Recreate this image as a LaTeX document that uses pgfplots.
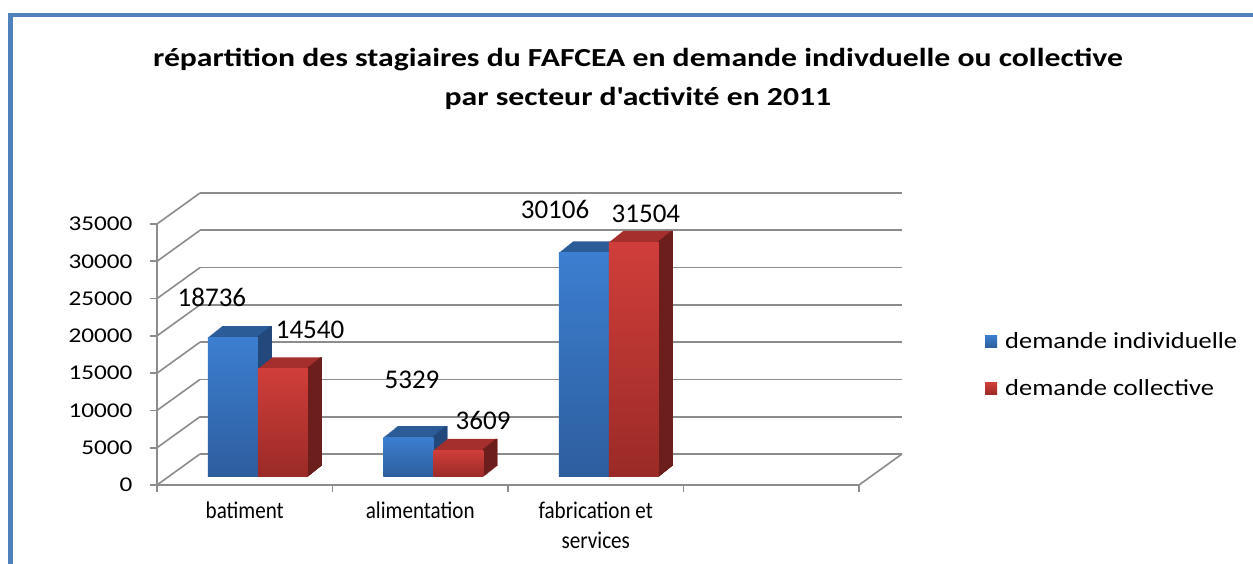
\documentclass[border=0pt]{standalone}
\usepackage{fontspec}
\setmainfont{Carlito}
\newfontfamily\titlefont[FakeStretch=1.22]{Carlito}
\newfontfamily\tickfont[FakeStretch=1.2]{Carlito}
\newfontfamily\legfont[FakeStretch=1.15]{Carlito}
\newfontfamily\catfont[FakeStretch=0.88]{Carlito}
\usepackage{pgfplots}
\usepackage{pgfplotstable}
\pgfplotsset{compat=1.18}
\definecolor{frameblue}{HTML}{4F81BD}
\definecolor{gridgray}{HTML}{8C8C8C}
\definecolor{bluefront}{HTML}{3C7ED0}
\definecolor{bluefrontdark}{HTML}{2D5E9E}
\definecolor{bluetop}{HTML}{2C5C98}
\definecolor{blueside}{HTML}{23487C}
\definecolor{redfront}{HTML}{D03E3A}
\definecolor{redfrontdark}{HTML}{9A2A27}
\definecolor{redtop}{HTML}{A52F2C}
\definecolor{redside}{HTML}{6C1E1C}

\pgfplotstableread{
x ind col
0.5 18736 14540
1.5 5329 3609
2.5 30106 31504
}\data

\pgfplotstableread{
x y label
0.313 25211 18736
0.872 20785 14540
1.453 14080 5329
1.858 8716 3609
2.268 36900 30106
2.786 36400 31504
}\labels

\pgfplotsset{base/.style={scale only axis, width=702pt, height=261pt,
  xmin=0, xmax=4, ymin=0, ymax=35000, anchor=south west}}

\begin{document}
\begin{tikzpicture}[x=1pt,y=1pt]
\clip (0,0) rectangle (1253,564);
\fill[white] (0,0) rectangle (1253,564);
\draw[frameblue, line width=4.3pt] (10.5,-20) -- (10.5,549.3) -- (1290,549.3);

% title
\node[font=\titlefont\bfseries\fontsize{26}{39}\selectfont, align=center] at (638,485)
  {répartition des stagiaires du FAFCEA en demande indivduelle ou collective\\
   par secteur d\textquotesingle activité en 2011};

% back wall
\begin{axis}[base, at={(200pt,110pt)}, axis line style={draw=none},
  scaled y ticks=false,
  xtick=\empty, ytick={0,5000,...,35000}, yticklabels={}, major tick length=0pt,
  ymajorgrids, grid style={gridgray, line width=1.6pt}]
\end{axis}

% side wall diagonals and floor edge
\foreach \k in {0,...,7}
  \draw[gridgray, line width=1.6pt] (157,79+\k*37.2857) -- ++(43,31);
\draw[gridgray, line width=1.6pt] (859,79) -- (902,110);

% bars
\begin{axis}[base, at={(170pt,87pt)}, hide axis, clip=false,
  legend style={at={(1.161,0.562)}, anchor=north west, draw=none, fill=none,
    font=\legfont\fontsize{23}{23}\selectfont, row sep=26pt, inner sep=0pt,
    /tikz/every odd column/.append style={column sep=6pt}},
  legend cell align=left,
  legend image code/.code={\fill[#1] (0pt,-6pt) rectangle (12pt,6pt);}]
% soft floor shadows, one per group
\addplot[ybar, bar width=150pt, bar shift=8pt, draw=none,
  left color=white, middle color=black!28, right color=white,
  yshift=-4pt, forget plot] coordinates {(0.5,1400)};
\addplot[ybar, bar width=150pt, bar shift=8pt, draw=none,
  left color=white, middle color=black!28, right color=white,
  yshift=-4pt, forget plot] coordinates {(1.5,1400)};
\addplot[ybar, bar width=150pt, bar shift=8pt, draw=none,
  left color=white, middle color=black!28, right color=white,
  yshift=-4pt, forget plot] coordinates {(2.5,1400)};
% 3D extrusions (top and side faces)
\pgfplotsinvokeforeach{1,...,14}{
  \addplot[ybar, bar width=50pt, bar shift=-25pt, fill=bluetop, draw=none,
    xshift=#1pt, yshift=0.8*#1pt, forget plot] table[x=x,y=ind]{\data};
}
\pgfplotsinvokeforeach{1,...,14}{
  \addplot[ybar, bar width=2pt, bar shift=-1pt, fill=blueside, draw=none,
    xshift=#1pt, yshift=0.8*#1pt, forget plot] table[x=x,y=ind]{\data};
}
\pgfplotsinvokeforeach{1,...,14}{
  \addplot[ybar, bar width=50pt, bar shift=25pt, fill=redtop, draw=none,
    xshift=#1pt, yshift=0.8*#1pt, forget plot] table[x=x,y=col]{\data};
}
\pgfplotsinvokeforeach{1,...,14}{
  \addplot[ybar, bar width=2pt, bar shift=49pt, fill=redside, draw=none,
    xshift=#1pt, yshift=0.8*#1pt, forget plot] table[x=x,y=col]{\data};
}
% front faces, one plot per bar so each has its own gradient
\addplot[ybar, bar width=50pt, bar shift=-25pt, draw=none,
  top color=bluefront, bottom color=bluefrontdark] coordinates {(0.5,18736)};
\addlegendentry{demande individuelle}
\addplot[ybar, bar width=50pt, bar shift=25pt, draw=none,
  top color=redfront, bottom color=redfrontdark] coordinates {(0.5,14540)};
\addlegendentry{demande collective}
\addplot[ybar, bar width=50pt, bar shift=-25pt, draw=none, forget plot,
  top color=bluefront, bottom color=bluefrontdark] coordinates {(1.5,5329)};
\addplot[ybar, bar width=50pt, bar shift=25pt, draw=none, forget plot,
  top color=redfront, bottom color=redfrontdark] coordinates {(1.5,3609)};
\addplot[ybar, bar width=50pt, bar shift=-25pt, draw=none, forget plot,
  top color=bluefront, bottom color=bluefrontdark] coordinates {(2.5,30106)};
\addplot[ybar, bar width=50pt, bar shift=25pt, draw=none, forget plot,
  top color=redfront, bottom color=redfrontdark] coordinates {(2.5,31504)};
\end{axis}

% front axis
\begin{axis}[base, at={(157pt,79pt)}, clip=false,
  axis x line*=bottom, axis y line*=left,
  axis line style={draw=gridgray, line width=1.6pt, -},
  tick align=outside, major tick length=7pt,
  tick style={gridgray, line width=1.6pt},
  xtick={0,1,2,3,4}, xticklabels={},
  extra x ticks={0.5,1.5,2.5},
  extra x tick labels={batiment,alimentation,{fabrication et\\services}},
  extra x tick style={major tick length=0pt,
    tick label style={align=center, font=\catfont\fontsize{24}{30}\selectfont,
      anchor=north, yshift=-13pt}},
  ytick={0,5000,...,35000},
  scaled y ticks=false,
  /pgf/number format/1000 sep={},
  /pgf/number format/assume math mode=true,
  yticklabel style={font=\tickfont\fontsize{21}{21}\selectfont, xshift=-14pt}]
\addplot[only marks, mark=none, nodes near coords, point meta=explicit symbolic,
  every node near coord/.append style={anchor=center,
    font=\fontsize{27}{27}\selectfont}]
  table[x=x,y=y,meta=label]{\labels};
\end{axis}
\end{tikzpicture}
\end{document}
